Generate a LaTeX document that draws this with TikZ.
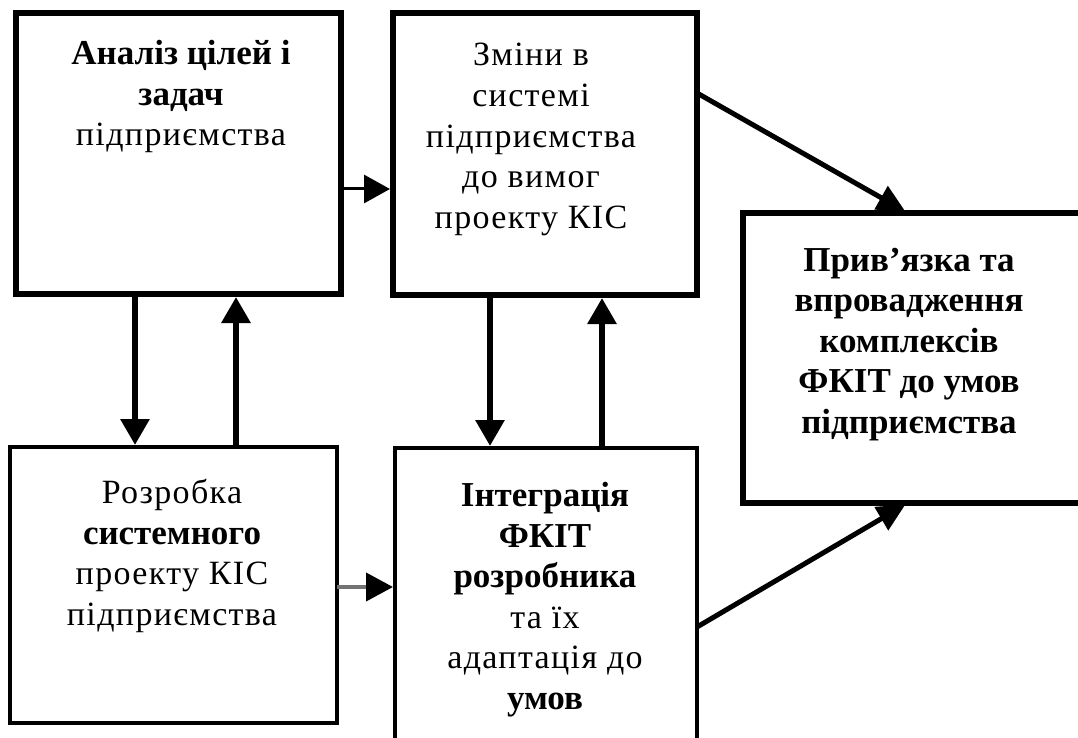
\documentclass[tikz,border=0pt]{standalone}
\usepackage{fontspec}
\setmainfont{Liberation Serif}
\newfontfamily\spc[LetterSpace=4]{Liberation Serif}
\usetikzlibrary{arrows.meta}
\newcommand\bl[1]{{\fontsize{35}{40.5}\selectfont\bfseries #1}}
\newcommand\rg[1]{{\spc #1}}
\begin{document}
\begin{tikzpicture}[x=1pt,y=-1pt,
  thickbox/.style={draw, line width=6pt, inner sep=0pt, outer sep=0pt, anchor=north west},
  thinbox/.style={draw, line width=4pt, inner sep=0pt, outer sep=0pt, anchor=north west},
  % the base anchor of a multi-line text sits on its last line
  txt/.style={align=center, inner sep=0pt, anchor=base, font=\fontsize{34}{40.5}\selectfont},
  tip/.style={-{Triangle[length=26pt,width=28pt]}},
  vlink/.style={tip, line width=6pt},
  hlink/.style={tip, line width=3pt},
  dlink/.style={-{Triangle[length=28pt,width=26pt]}, line width=5pt},
  glink/.style={-{Triangle[length=27pt,width=28pt,color=black]}, line width=4pt, draw=black!55}
]
\useasboundingbox (0,0) rectangle (1078,738);
\fill[white] (0,0) rectangle (1078,738);
\clip (0,0) rectangle (1078,738);

% blocks
\node[thickbox, minimum width=325pt, minimum height=281pt] (A) at (16,13) {};
\node[thickbox, minimum width=304pt, minimum height=282pt] (B) at (393,13) {};
\node[thickbox, minimum width=377pt, minimum height=290pt] (C) at (743,213) {};
\node[thinbox,  minimum width=327pt, minimum height=276pt] (D) at (10,447) {};
\node[thinbox,  minimum width=302pt, minimum height=332pt] (E) at (395,448) {};

% block texts
\node[txt] (At) at (181,146) {\bl{Аналіз цілей і}\\\bl{задач}\\\rg{підприємства}};
\node[txt] (Bt) at (531,228) {\rg{Зміни в}\\\rg{системі}\\\rg{підприємства}\\\rg{до вимог}\\\rg{проекту КІС}};
\node[txt] (Ct) at (909,433) {\bl{Прив’язка та}\\\bl{впровадження}\\\bl{комплексів}\\\bl{ФКІТ до умов}\\\bl{підприємства}};
\node[txt] (Dt) at (172,625) {\rg{Розробка}\\\bl{системного}\\\rg{проекту КІС}\\\rg{підприємства}};
\node[txt] (Et) at (545,709) {\bl{Інтеграція}\\\bl{ФКІТ}\\\bl{розробника}\\\rg{та їх}\\\rg{адаптація до}\\\bl{умов}};

% connectors
\draw[hlink, shorten >=3pt] ([yshift=-35.5pt]A.east) -- ([yshift=-35pt]B.west);
\draw[vlink, shorten >=2pt] ([xshift=119pt]A.south west) -- ([xshift=125pt]D.north west);
\draw[vlink, shorten >=3pt] ([xshift=226pt]D.north west) -- ([xshift=220pt]A.south west);
\draw[vlink, shorten >=2pt] ([xshift=97pt]B.south west) -- ([xshift=95pt]E.north west);
\draw[vlink, shorten >=3pt] ([xshift=207pt]E.north west) -- ([xshift=209pt]B.south west);
\draw[glink, shorten >=2pt] ([yshift=-2pt]D.east) -- ([yshift=27pt]E.west);
\draw[dlink, shorten >=3pt] ([yshift=61pt]B.east) -- ([xshift=165pt]C.north west);
\draw[dlink, shorten >=3pt] ([yshift=-13pt]E.east) -- ([xshift=165pt]C.south west);
\end{tikzpicture}
\end{document}
